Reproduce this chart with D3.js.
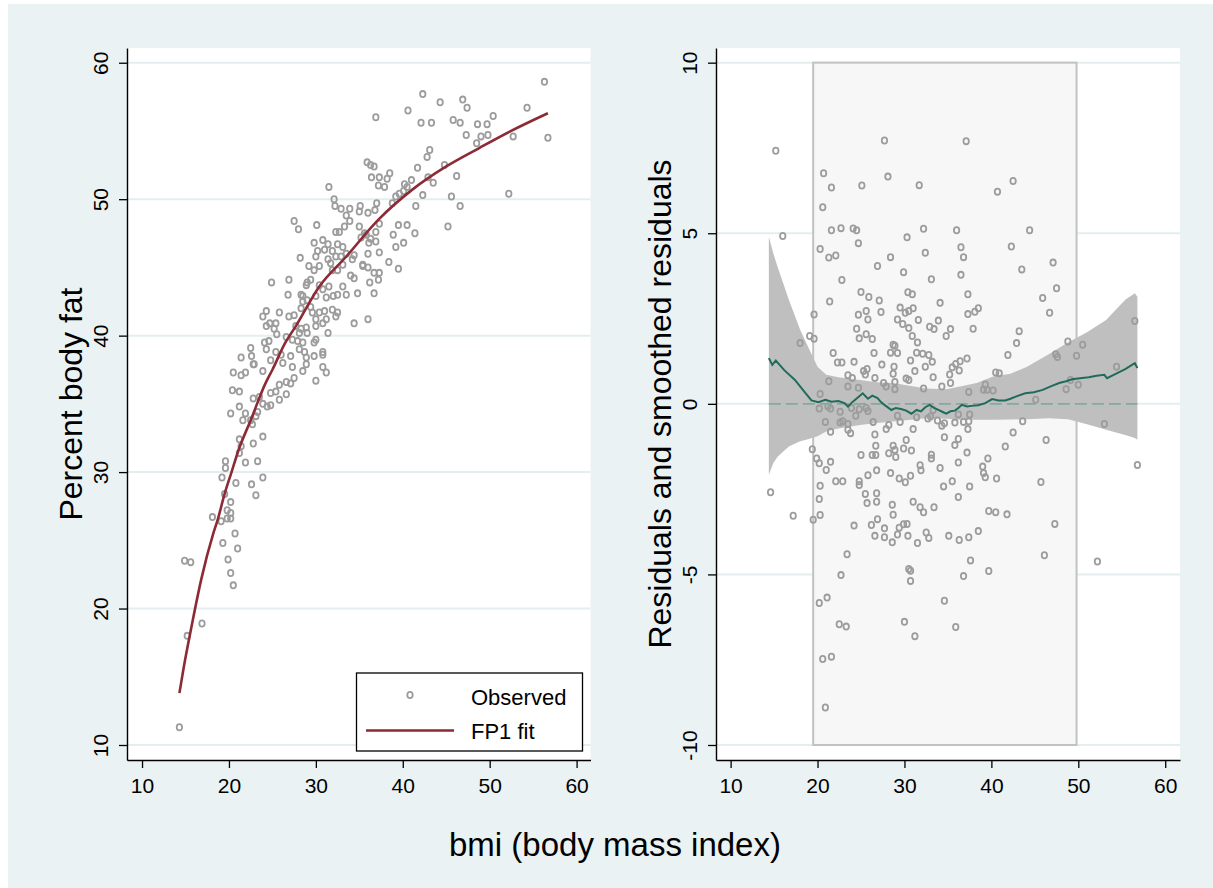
<!DOCTYPE html>
<html>
<head>
<meta charset="utf-8">
<script src="https://cdnjs.cloudflare.com/ajax/libs/d3/7.8.5/d3.min.js"></script>
<style>
body { margin: 0; background: #fff; }
text { font-family: "Liberation Sans", Arial, sans-serif; }
</style>
</head>
<body>
<svg id="chart" width="1213" height="888"></svg>
<script>
// tick values
var bmiTicks = [10, 20, 30, 40, 50, 60];
var fatTicks = [10, 20, 30, 40, 50, 60];
var residTicks = [-10, -5, 0, 5, 10];

// observed percent body fat against bmi
var observed = [
  [42.3,57.7],[44.3,57.1],[46.9,57.3],[47.4,56.7],[50.4,56.1],[40.6,56.5],[36.9,56.0],[42.1,55.6],[43.3,55.6],
  [45.8,55.8],[46.6,55.6],[48.6,55.5],[49.7,55.5],[47.3,54.7],[49.0,54.6],[49.8,54.7],[48.5,54.1],[42.8,53.1],
  [43.1,53.6],[35.9,52.7],[36.3,52.5],[36.7,52.4],[36.4,51.6],[37.3,51.6],[38.2,51.5],[38.5,51.9],[37.2,51.0],
  [37.9,50.9],[41.7,52.3],[44.8,52.5],[46.2,51.7],[42.9,51.6],[41.0,51.4],[40.2,51.1],[43.5,51.2],[42.3,50.3],
  [45.6,50.2],[46.6,49.5],[41.5,49.5],[45.2,48.0],[31.5,50.9],[32.1,50.0],[32.2,49.5],[32.9,49.3],[33.9,49.3],
  [35.1,49.5],[35.0,49.1],[36.0,49.0],[37.0,49.7],[36.8,49.2],[39.2,50.2],[39.6,50.4],[40.1,50.6],[40.5,50.9],
  [38.8,49.7],[39.5,48.1],[40.5,48.1],[41.4,47.5],[38.9,47.4],[39.2,46.5],[40.1,46.8],[33.5,48.8],[33.9,48.4],
  [33.3,48.0],[32.7,47.6],[27.5,48.4],[28.0,47.8],[30.1,48.1],[35.0,48.0],[35.6,47.5],[35.2,47.2],[37.3,48.2],
  [36.9,47.6],[36.9,46.9],[36.1,46.8],[37.3,46.1],[38.4,45.4],[39.5,44.9],[36.0,46.0],[35.4,45.2],[36.0,45.0],
  [37.3,44.6],[56.3,58.6],[56.7,54.5],[54.3,56.7],[52.7,54.6],[52.2,50.4],[28.2,45.7],[32.3,47.6],[35.8,47.4],
  [36.3,47.1],[24.9,43.9],[25.8,41.7],[24.3,41.8],[23.9,41.4],[24.7,40.9],[25.4,40.9],[25.2,40.5],[24.3,40.7],
  [25.5,40.1],[24.1,39.5],[24.6,39.6],[24.3,39.0],[25.4,38.8],[24.8,38.2],[21.4,38.4],[22.5,39.1],[22.9,37.9],
  [26.9,44.1],[26.8,43.0],[28.5,42.9],[28.9,43.7],[29.0,43.9],[29.4,44.1],[29.2,45.1],[29.8,44.8],[30.4,45.1],
  [29.8,46.8],[30.8,47.0],[30.2,46.2],[31.0,46.3],[30.0,45.8],[31.4,46.7],[31.9,46.2],[32.5,46.7],[33.1,46.5],
  [32.3,45.8],[32.9,45.8],[33.5,46.0],[34.4,45.9],[34.2,45.6],[31.4,45.6],[31.7,45.3],[31.9,44.8],[32.5,44.8],
  [33.1,45.2],[35.4,45.1],[34.0,44.4],[34.4,44.2],[36.2,43.9],[36.7,44.6],[31.5,43.6],[32.0,42.9],[32.5,43.0],
  [33.1,43.6],[33.5,43.0],[34.8,43.1],[36.7,43.1],[30.4,43.7],[30.8,43.4],[30.0,42.9],[31.2,42.8],[28.3,43.0],
  [28.5,42.5],[29.0,42.6],[29.4,42.1],[29.6,41.7],[30.4,41.7],[31.0,41.8],[30.0,41.2],[31.2,41.2],[31.9,41.9],
  [32.5,41.7],[32.3,41.4],[26.9,41.4],[27.5,41.5],[28.3,42.0],[27.7,40.7],[28.3,40.5],[28.9,40.6],[28.1,40.2],
  [29.0,40.2],[30.0,40.7],[30.8,40.9],[31.4,40.2],[34.4,40.9],[36.0,41.2],[26.6,39.9],[27.3,39.7],[27.9,39.6],
  [28.5,39.5],[29.8,39.5],[30.0,39.7],[30.8,38.8],[30.8,38.6],[28.1,39.0],[28.7,38.8],[28.9,38.4],[29.8,38.5],
  [27.1,38.5],[26.0,38.6],[26.2,38.0],[27.3,37.7],[28.9,37.9],[30.8,37.7],[37.2,44.1],[20.5,37.3],[21.4,37.1],
  [21.9,37.3],[22.8,37.9],[23.9,37.4],[22.6,38.5],[20.4,36.0],[21.2,35.9],[22.8,35.4],[23.5,35.5],[23.9,35.0],
  [24.8,35.8],[25.4,35.9],[25.8,36.4],[26.6,36.6],[27.1,36.5],[27.5,36.9],[28.5,37.4],[30.0,36.7],[31.2,37.3],
  [26.6,35.7],[25.8,35.3],[24.8,34.9],[24.4,34.8],[21.2,34.8],[20.2,34.3],[21.9,34.3],[21.6,33.8],[22.5,33.8],
  [23.1,34.1],[22.7,33.5],[23.3,34.4],[23.9,32.6],[22.8,32.1],[21.2,32.4],[21.4,31.9],[21.2,31.4],[21.9,30.7],
  [23.3,30.8],[19.6,30.8],[19.6,30.3],[19.2,29.6],[20.8,29.2],[22.6,29.1],[23.9,29.6],[23.1,28.3],[19.5,28.4],
  [20.2,27.8],[19.8,27.2],[20.2,27.0],[18.1,26.7],[19.8,26.6],[20.2,26.6],[19.1,26.4],[20.7,25.5],[19.3,24.8],
  [21.0,24.4],[14.9,23.5],[15.6,23.4],[19.9,23.6],[20.2,22.6],[20.5,21.7],[16.9,18.9],[15.2,18.0],[14.3,11.3]
];

// FP1 fitted curve
var fp1Fit = [
  [14.3,13.8],[14.8,15.7],[15.7,18.7],[16.8,22.1],[18.2,25.5],[18.7,26.5],[19.5,28.4],[20.3,30.0],[21.1,31.6],
  [22.5,33.8],[24.2,36.5],[25.0,37.5],[26.5,39.5],[27.7,40.7],[30.4,43.6],[33.5,45.8],[37.2,48.5],[41.1,50.7],
  [45.0,52.4],[48.8,53.75],[52.3,54.95],[56.7,56.3]
];

// residuals against bmi
var residuals = [
  [15.2,7.42],[16.0,4.92],[27.7,7.72],[37.1,7.70],[20.7,6.76],[28.1,6.66],[21.6,6.34],[25.1,6.40],[31.7,6.41],
  [42.5,6.53],[40.7,6.22],[20.6,5.76],[21.6,5.09],[22.7,5.15],[24.1,5.14],[24.5,5.09],[32.2,5.13],[36.0,5.09],
  [44.4,5.09],[30.3,4.88],[24.7,4.71],[36.5,4.59],[42.3,4.61],[20.3,4.54],[21.3,4.29],[22.1,4.35],[28.4,4.30],
  [32.4,4.43],[36.8,4.30],[26.9,4.04],[29.9,3.86],[33.1,3.65],[36.5,3.78],[47.1,4.14],[43.5,3.94],[22.8,3.63],
  [47.5,3.39],[25.0,3.28],[25.9,3.13],[27.1,3.03],[21.4,3.00],[30.4,3.27],[30.9,3.21],[34.1,2.96],[37.3,3.21],
  [45.9,3.10],[46.7,2.67],[19.6,2.62],[24.7,2.61],[25.6,2.72],[25.8,2.47],[27.3,2.69],[29.5,2.82],[30.1,2.67],
  [30.5,2.72],[31.0,2.80],[29.2,2.47],[29.8,2.34],[31.6,2.46],[30.5,2.22],[30.9,1.99],[33.9,2.44],[32.9,2.26],
  [33.4,2.19],[35.3,2.19],[34.8,1.99],[37.3,2.63],[38.1,2.70],[38.5,2.80],[37.9,2.20],[43.2,2.13],[42.9,1.78],
  [48.8,1.83],[50.5,1.73],[24.5,2.20],[24.8,1.92],[25.6,2.04],[26.3,1.90],[19.1,1.99],[19.6,1.91],[18.0,1.78],
  [28.7,1.73],[31.5,1.80],
  [21.8,1.49],[22.3,1.21],[22.8,1.21],[24.2,1.23],[26.5,1.49],[27.4,1.15],[28.4,1.50],[28.9,1.70],[29.2,1.49],
  [28.8,1.09],[28.7,0.88],[31.4,1.50],[32.1,1.47],[32.8,1.43],[30.7,1.27],[33.2,1.23],[32.4,1.09],[31.2,0.96],
  [35.5,1.07],[35.9,1.17],[36.4,1.25],[36.3,0.98],[37.2,1.33],[35.2,0.86],[33.3,0.78],[35.3,0.61],[34.3,0.51],
  [32.2,0.45],[30.2,0.74],[30.5,0.70],[28.9,0.64],[28.9,0.43],[27.6,0.61],[27.9,0.51],[26.6,0.76],[25.3,0.96],
  [25.7,1.02],[25.5,0.86],[24.7,0.47],[23.5,0.84],[24.0,0.76],[21.3,0.66],[23.5,0.51],[20.3,0.29],[37.4,0.35],
  [39.3,0.57],[39.5,0.41],[40.2,0.39],[39.1,0.41],[40.5,0.92],[40.9,0.90],[41.9,1.43],[47.4,1.45],[47.6,1.37],
  [49.8,1.41],[48.6,0.43],[49.1,0.70],[50.0,0.56],[45.1,0.12],
  [20.2,-0.14],[21.2,-0.08],[21.5,-0.14],[22.6,-0.23],[23.9,-0.12],[20.9,-0.53],[22.6,-0.55],[22.9,-0.51],
  [23.5,-0.59],[24.8,-0.16],[25.6,-0.12],[25.8,-0.21],[24.4,-0.35],[21.5,-0.82],[23.5,-0.76],[23.8,-0.86],
  [26.4,-0.53],[26.6,-0.90],[27.9,-0.74],[28.2,-0.62],[29.2,-0.35],[29.5,-0.53],[31.0,-0.74],[31.4,-0.39],
  [32.7,-0.43],[33.0,-0.37],[33.8,-0.49],[34.3,-0.64],[34.6,-0.57],[33.3,-0.18],[35.8,-0.55],[36.2,-0.31],
  [36.8,-0.53],[37.5,-0.31],[37.4,-0.51],[37.3,-0.74],[34.6,-0.98],[36.2,-1.03],[37.2,-1.43],[35.8,-1.21],
  [30.2,-1.06],[30.8,-1.37],[29.9,-1.31],[28.7,-1.23],[28.9,-1.35],[29.0,-1.56],[28.2,-1.45],[26.7,-1.23],
  [26.3,-1.50],[26.7,-1.50],[25.0,-1.50],[19.4,-1.33],[19.9,-1.60],[20.2,-1.74],[21.5,-1.70],[31.8,-1.80],
  [34.1,-1.88],[33.1,-1.49],[33.1,-1.60],[39.6,-1.60],[39.0,-1.84],[41.6,-1.25],[42.5,-0.84],[43.6,-0.51],
  [46.3,-1.06],
  [21.0,-1.94],[14.6,-2.59],[20.3,-2.40],[20.2,-2.79],[22.1,-2.27],[22.9,-2.27],[24.8,-2.27],[24.8,-2.38],
  [25.8,-2.09],[26.8,-1.95],[28.4,-2.03],[29.4,-2.19],[30.1,-2.30],[30.7,-2.11],[31.9,-1.95],[36.2,-1.72],
  [39.1,-2.03],[39.3,-2.15],[40.6,-2.19],[34.5,-2.42],[35.5,-2.27],[37.5,-2.42],[36.2,-2.73],[45.7,-2.29],
  [25.5,-2.64],[26.8,-2.62],[25.7,-2.91],[26.8,-2.87],[28.6,-2.96],[28.7,-3.25],[31.0,-2.87],[31.8,-3.03],
  [32.2,-3.18],[33.4,-3.03],[17.2,-3.28],[19.5,-3.40],[20.3,-3.26],[24.2,-3.57],[26.2,-3.55],[26.9,-3.38],
  [27.7,-3.65],[29.4,-3.63],[29.9,-3.53],[30.3,-3.52],[26.6,-3.87],[27.7,-3.91],[28.6,-4.06],[29.2,-3.83],
  [30.4,-3.87],[31.5,-4.08],[32.5,-3.77],[32.8,-3.93],[35.1,-3.87],[36.3,-3.99],[37.4,-3.91],[38.5,-3.73],
  [39.7,-3.14],[40.5,-3.18],[41.8,-3.24],[47.3,-3.52],[46.1,-4.44],[23.4,-4.41],[22.7,-5.02],[30.5,-4.84],
  [30.7,-4.89],[30.7,-5.19],[37.6,-4.59],[36.8,-5.05],[39.7,-4.90],[20.2,-5.84],[21.1,-5.68],[34.6,-5.77],
  [22.5,-6.46],[23.3,-6.53],[30.0,-6.39],[31.2,-6.81],[35.9,-6.54],[20.6,-7.48],[21.6,-7.41],[20.9,-8.90],
  [56.8,-1.79],[52.2,-4.62],[54.4,1.09],[56.5,2.43],[53.0,-0.59]
];

// running-line smooth of the residuals
var smoothRes = [
  [14.4,1.34],[14.8,1.14],[15.2,1.27],[16.2,0.98],[17.4,0.70],[18.5,0.35],[19.3,0.10],[20.1,0.05],[20.9,0.12],
  [21.6,0.06],[22.4,0.08],[23.1,0.02],[23.5,-0.08],[24.0,0.05],[24.6,0.18],[25.2,0.31],[25.8,0.15],[26.3,0.24],
  [26.9,0.17],[27.3,0.05],[27.7,-0.03],[28.5,-0.18],[29.0,-0.12],[29.6,-0.15],[30.2,-0.20],[30.8,-0.29],
  [31.4,-0.18],[31.9,-0.22],[32.4,-0.10],[32.9,-0.03],[33.4,-0.12],[33.9,-0.18],[34.4,-0.24],[34.8,-0.29],
  [35.3,-0.22],[35.8,-0.20],[36.2,-0.12],[36.6,-0.03],[37.2,-0.08],[37.7,-0.06],[38.5,-0.04],[39.3,0.02],
  [40.1,0.14],[40.8,0.10],[41.6,0.10],[42.2,0.15],[42.8,0.21],[43.9,0.31],[44.9,0.34],[45.9,0.41],[46.9,0.52],
  [47.8,0.61],[48.6,0.66],[49.3,0.72],[50.2,0.75],[51.2,0.78],[52.1,0.82],[53.0,0.85],[53.3,0.75],[54.3,0.88],
  [55.4,1.02],[56.5,1.19],[56.8,1.05]
];

// confidence band of the smooth: bmi, lower, upper
var smoothBand = [
  [14.4,-2.08,4.90],[14.9,-1.74,4.42],[15.4,-1.55,4.02],[16.7,-1.25,3.05],[18.0,-1.10,2.17],[18.9,-1.04,1.68],
  [20.0,-0.95,1.09],[21.0,-0.81,0.85],[22.4,-0.72,0.78],[24.9,-0.62,0.70],[26.8,-0.56,0.63],[28.7,-0.52,0.61],
  [32.5,-0.42,0.45],[34.8,-0.44,0.43],[36.4,-0.47,0.51],[38.3,-0.47,0.61],[40.2,-0.47,0.80],[42.2,-0.46,0.88],
  [44.1,-0.45,1.09],[46.6,-0.42,1.45],[48.8,-0.45,1.80],[51.0,-0.60,2.10],[53.2,-0.76,2.46],[55.4,-0.91,3.05],
  [56.5,-1.00,3.24],[56.8,-1.05,3.14]
];

// bmi range of the shaded box
var boxRange = [19.5, 49.8];

var svg = d3.select("#chart");

// outer graph region
svg.append("rect").attr("x", 8).attr("y", 4).attr("width", 1205).attr("height", 884)
    .attr("fill", "#eaf2f3");

var xL = d3.scaleLinear().domain([8.27, 61.6]).range([127, 590.5]);
var yL = d3.scaleLinear().domain([8.9, 61.08]).range([760, 48]);
var xR = d3.scaleLinear().domain([8.32, 61.7]).range([716, 1180]);
var yR = d3.scaleLinear().domain([-10.44, 10.43]).range([760, 48]);

function drawFrame(x, y, yTicks) {
    var x0 = x.range()[0], x1 = x.range()[1];
    svg.append("rect").attr("x", x0).attr("y", y.range()[1])
        .attr("width", x1 - x0).attr("height", y.range()[0] - y.range()[1])
        .attr("fill", "#fff");
    svg.append("g").selectAll("line").data(yTicks).enter().append("line")
        .attr("x1", x0).attr("x2", x1)
        .attr("y1", function(d) { return y(d); })
        .attr("y2", function(d) { return y(d); })
        .attr("stroke", "#e4eef1").attr("stroke-width", 2);
}

// hollow circle markers, a touch taller than wide like the original
function drawPoints(data, x, y) {
    svg.append("g").selectAll("ellipse").data(data).enter().append("ellipse")
        .attr("cx", function(d) { return x(d[0]); })
        .attr("cy", function(d) { return y(d[1]); })
        .attr("rx", 2.7).attr("ry", 3.1)
        .attr("fill", "none").attr("stroke", "#9c9c9c").attr("stroke-width", 1.8);
}

function drawAxes(x, y, yTicks) {
    var gx = svg.append("g").attr("transform", "translate(0," + y.range()[0] + ")")
        .call(d3.axisBottom(x).tickValues(bmiTicks).tickSize(8).tickSizeOuter(0).tickPadding(10));
    var gy = svg.append("g").attr("transform", "translate(" + x.range()[0] + ",0)")
        .call(d3.axisLeft(y).tickValues(yTicks).tickSize(8).tickSizeOuter(0)
            .tickFormat(function(d) { return String(d); }));
    [gx, gy].forEach(function(g) {
        g.select(".domain").attr("stroke", "#000").attr("stroke-width", 1.4);
        g.selectAll(".tick line").attr("stroke", "#000").attr("stroke-width", 1.3);
        g.selectAll("text").style("font-size", "21px").attr("fill", "#000")
            .style("font-family", "'Liberation Sans', Arial, sans-serif");
    });
    // vertical tick labels as in the original
    gy.selectAll("text").attr("transform", "rotate(-90)")
        .attr("x", 0).attr("y", -19).attr("dy", 0).attr("text-anchor", "middle");
}

// ---- left panel: observed and FP1 fit ----
drawFrame(xL, yL, fatTicks);
drawPoints(observed, xL, yL);

svg.append("path").datum(fp1Fit)
    .attr("d", d3.line().x(function(d) { return xL(d[0]); }).y(function(d) { return yL(d[1]); })
        .curve(d3.curveMonotoneX))
    .attr("fill", "none").attr("stroke", "#8c2a35").attr("stroke-width", 2.6);

// legend
var legend = svg.append("g");
legend.append("rect").attr("x", 356.5).attr("y", 673).attr("width", 226).attr("height", 78)
    .attr("fill", "#fff").attr("stroke", "#000").attr("stroke-width", 1.3);
legend.append("ellipse").attr("cx", 410).attr("cy", 695).attr("rx", 2.7).attr("ry", 3.1)
    .attr("fill", "none").attr("stroke", "#9c9c9c").attr("stroke-width", 1.8);
legend.append("line").attr("x1", 366).attr("x2", 454).attr("y1", 730.5).attr("y2", 730.5)
    .attr("stroke", "#8c2a35").attr("stroke-width", 2.6);
legend.append("text").attr("x", 471).attr("y", 705).style("font-size", "22px").text("Observed");
legend.append("text").attr("x", 471).attr("y", 739).style("font-size", "22px").text("FP1 fit");

drawAxes(xL, yL, fatTicks);

// ---- right panel: residuals and smooth ----
drawFrame(xR, yR, residTicks);

svg.append("rect").attr("x", xR(boxRange[0])).attr("y", yR(10))
    .attr("width", xR(boxRange[1]) - xR(boxRange[0])).attr("height", yR(-10) - yR(10))
    .attr("fill", "#f7f7f7").attr("stroke", "#c2c2c2").attr("stroke-width", 2);

svg.append("path").datum(smoothBand)
    .attr("d", d3.area().x(function(d) { return xR(d[0]); })
        .y0(function(d) { return yR(d[1]); }).y1(function(d) { return yR(d[2]); }))
    .attr("fill", "#bfbfbf");

drawPoints(residuals, xR, yR);

var span = d3.extent(smoothBand, function(d) { return d[0]; });
svg.append("line").attr("x1", xR(span[0])).attr("x2", xR(span[1]))
    .attr("y1", yR(0)).attr("y2", yR(0))
    .attr("stroke", "#85a99c").attr("stroke-width", 1.8).attr("stroke-dasharray", "12,5");

svg.append("path").datum(smoothRes)
    .attr("d", d3.line().x(function(d) { return xR(d[0]); }).y(function(d) { return yR(d[1]); }))
    .attr("fill", "none").attr("stroke", "#216b5b").attr("stroke-width", 2);

drawAxes(xR, yR, residTicks);

// axis titles
svg.append("text").attr("transform", "translate(82,404) rotate(-90)")
    .attr("text-anchor", "middle").style("font-size", "32px").text("Percent body fat");
svg.append("text").attr("transform", "translate(671,404) rotate(-90)")
    .attr("text-anchor", "middle").style("font-size", "32px").text("Residuals and smoothed residuals");
svg.append("text").attr("x", 615).attr("y", 856)
    .attr("text-anchor", "middle").style("font-size", "33px").text("bmi (body mass index)");
</script>
</body>
</html>
